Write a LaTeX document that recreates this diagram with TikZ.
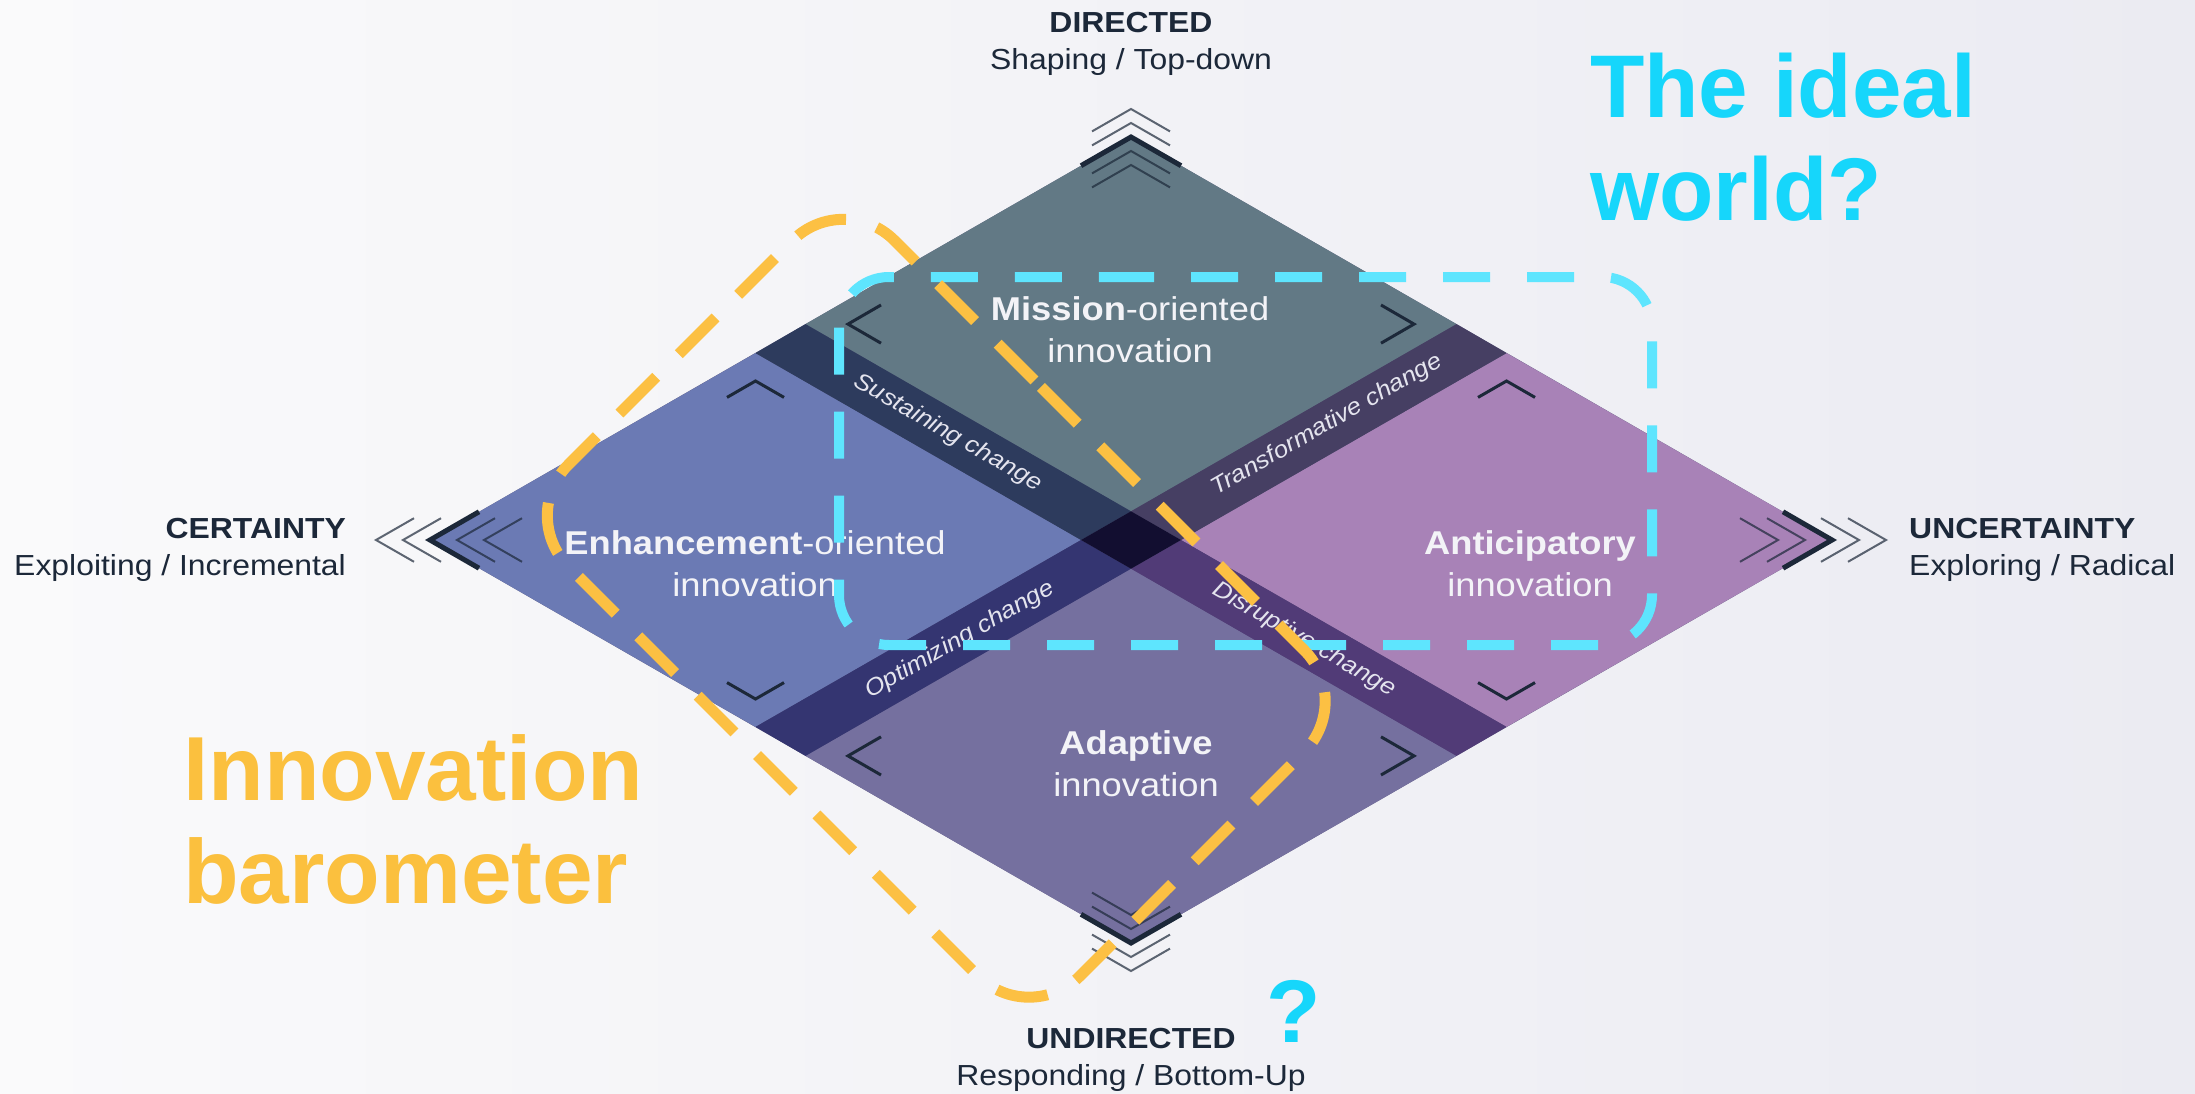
\documentclass[tikz,border=0pt]{standalone}
\usepackage{fontspec}
\setmainfont{Liberation Sans}
\newfontfamily\infofont{Liberation Sans}[FakeStretch=1.1]
\newfontfamily\notefont{Liberation Sans}
\usetikzlibrary{calc}

\definecolor{bgleft}{HTML}{FAFAFB}
\definecolor{bgright}{HTML}{EBEBF2}
\definecolor{missionfill}{HTML}{627985}
\definecolor{anticipfill}{HTML}{A882B7}
\definecolor{adaptfill}{HTML}{75709F}
\definecolor{enhancefill}{HTML}{6B7AB4}
\definecolor{sustainfill}{HTML}{2D3B5D}
\definecolor{transffill}{HTML}{463F63}
\definecolor{disruptfill}{HTML}{513B77}
\definecolor{optimfill}{HTML}{343571}
\definecolor{corefill}{HTML}{120E30}
\definecolor{navy}{HTML}{1C2839}
\definecolor{qwhite}{HTML}{F3F3F7}
\definecolor{bwhite}{HTML}{E4E4EE}
\definecolor{cyanline}{HTML}{5EE5FE}
\definecolor{cyantext}{HTML}{16D6FB}
\definecolor{orangeline}{HTML}{FCC043}
\definecolor{orangetext}{HTML}{FBC03E}

\begin{document}
\begin{tikzpicture}[x=1pt,y=-1pt,
  qtext/.style={text=qwhite, font=\infofont\fontsize{33}{42}\selectfont, align=center, inner sep=0pt},
  btext/.style={text=bwhite, font=\infofont\itshape\fontsize{23.5}{28}\selectfont, inner sep=0pt},
  axhead/.style={text=navy, font=\infofont\bfseries\fontsize{29}{35}\selectfont, inner sep=0pt},
  axsub/.style={text=navy, font=\infofont\fontsize{29}{35}\selectfont, inner sep=0pt},
  apexmark/.style={draw=navy, line width=5pt},
  apexthin/.style={draw=navy, line width=2pt, draw opacity=0.7},
  quadmark/.style={draw=navy, line width=3pt},
  idealframe/.style={draw=cyanline, line width=10pt, dash pattern=on 47pt off 37pt, rounded corners=50pt},
  baroframe/.style={draw=orangeline, line width=11pt, dash pattern=on 52pt off 32pt, rounded corners=72pt},
  bignote/.style={align=left, inner sep=0pt, anchor=west},
]
\useasboundingbox (0,0) rectangle (2195,1094);
\shade[left color=bgleft, right color=bgright] (0,0) rectangle (2195,1094);

% diamond corners
\coordinate (T) at (1131,137);
\coordinate (L) at (430,540);
\coordinate (R) at (1832,540);
\coordinate (B) at (1131,943);

% base fill under the pieces
\fill[adaptfill!80!black] (T) -- (R) -- (B) -- (L) -- cycle;

% four quadrants
\fill[missionfill] (T) -- (1456.5,324.1) -- (1131,511.3) -- (805.5,324.1) -- cycle;
\fill[anticipfill] (1506.5,353.1) -- (R) -- (1506.5,726.9) -- (1181,540) -- cycle;
\fill[adaptfill] (1131,568.7) -- (1456.5,755.9) -- (B) -- (805.5,755.9) -- cycle;
\fill[enhancefill] (755.5,353.1) -- (1081,540) -- (755.5,726.9) -- (L) -- cycle;

% change bands and their crossing
\fill[sustainfill] (755.5,353.1) -- (805.5,324.1) -- (1131,511.3) -- (1081,540) -- cycle;
\fill[transffill] (1131,511.3) -- (1456.5,324.1) -- (1506.5,353.1) -- (1181,540) -- cycle;
\fill[disruptfill] (1181,540) -- (1506.5,726.9) -- (1456.5,755.9) -- (1131,568.7) -- cycle;
\fill[optimfill] (1131,568.7) -- (805.5,755.9) -- (755.5,726.9) -- (1081,540) -- cycle;
\fill[corefill] (1081,540) -- (1131,511.3) -- (1181,540) -- (1131,568.7) -- cycle;

% chevrons at the top corner
\draw[apexthin] (1092,131.4) -- (1131,109) -- (1170,131.4);
\draw[apexthin] (1092,145.4) -- (1131,123) -- (1170,145.4);
\draw[apexthin] (1092,173.4) -- (1131,151) -- (1170,173.4);
\draw[apexthin] (1092,187.4) -- (1131,165) -- (1170,187.4);
\draw[apexmark] (1081,165.7) -- (T) -- (1181,165.7);
% chevrons at the bottom corner
\draw[apexthin] (1092,948.6) -- (1131,971) -- (1170,948.6);
\draw[apexthin] (1092,934.6) -- (1131,957) -- (1170,934.6);
\draw[apexthin] (1092,906.6) -- (1131,929) -- (1170,906.6);
\draw[apexthin] (1092,892.6) -- (1131,915) -- (1170,892.6);
\draw[apexmark] (1081,914.3) -- (B) -- (1181,914.3);
% chevrons at the left corner
\draw[apexthin] (414,518.2) -- (376,540) -- (414,561.8);
\draw[apexthin] (441,518.2) -- (403,540) -- (441,561.8);
\draw[apexthin] (495,518.2) -- (457,540) -- (495,561.8);
\draw[apexthin] (522,518.2) -- (484,540) -- (522,561.8);
\draw[apexmark] (479,511.8) -- (L) -- (479,568.2);
% chevrons at the right corner
\draw[apexthin] (1848,518.2) -- (1886,540) -- (1848,561.8);
\draw[apexthin] (1821,518.2) -- (1859,540) -- (1821,561.8);
\draw[apexthin] (1767,518.2) -- (1805,540) -- (1767,561.8);
\draw[apexthin] (1740,518.2) -- (1778,540) -- (1740,561.8);
\draw[apexmark] (1783,511.8) -- (R) -- (1783,568.2);

% small corner marks inside the quadrants
\draw[quadmark] (881,305) -- (848,324.1) -- (881,343.2);
\draw[quadmark] (1381,305) -- (1414,324.1) -- (1381,343.2);
\draw[quadmark] (881,736.8) -- (848,755.9) -- (881,775);
\draw[quadmark] (1381,736.8) -- (1414,755.9) -- (1381,775);
\draw[quadmark] (727,397.4) -- (755.5,381) -- (784,397.4);
\draw[quadmark] (727,682.6) -- (755.5,699) -- (784,682.6);
\draw[quadmark] (1478,397.4) -- (1506.5,381) -- (1535,397.4);
\draw[quadmark] (1478,682.6) -- (1506.5,699) -- (1535,682.6);

% quadrant names
\node[qtext] (mission) at (1130,330) {\textbf{Mission}-oriented\\innovation};
\node[qtext] (enhance) at (755,564) {\textbf{Enhancement}-oriented\\innovation};
\node[qtext] (anticip) at (1530,564) {\textbf{Anticipatory}\\innovation};
\node[qtext] (adapt) at (1136,764) {\textbf{Adaptive}\\innovation};

% band names
\node[btext, rotate=-29.9] (sustain) at (948,433) {Sustaining change};
\node[btext, rotate=29.9] (transf) at (1327,425) {Transformative change};
\node[btext, rotate=29.9] (optim) at (960,640) {Optimizing change};
\node[btext, rotate=-29.9] (disrupt) at (1304,640) {Disruptive change};

% axis ends
\node[axhead, anchor=base] (dir) at (1131,33) {DIRECTED};
\node[axsub, anchor=base] (dirsub) at (1131,70) {Shaping / Top-down};
\node[axhead, anchor=base east] (cert) at (346,538) {CERTAINTY};
\node[axsub, anchor=base east] (certsub) at (346,575) {Exploiting / Incremental};
\node[axhead, anchor=base west] (unc) at (1909,538) {UNCERTAINTY};
\node[axsub, anchor=base west] (uncsub) at (1909,575) {Exploring / Radical};
\node[axhead, anchor=base] (undir) at (1131,1048) {UNDIRECTED};
\node[axsub, anchor=base] (undirsub) at (1131,1085) {Responding / Bottom-Up};

% dashed outlines
\draw[idealframe] (1057,277) -- (1652,277) -- (1652,645) -- (839,645) -- (839,277) -- cycle;
\draw[baroframe] (990,336) -- (1355,701) -- (1029,1027) -- (517.5,515.5) -- (843.5,189.5) -- cycle;

% notes
\node[bignote, text=cyantext, font=\notefont\bfseries\fontsize{89}{103}\selectfont] (ideal) at (1590,137.5) {The ideal\\world?};
\node[bignote, text=orangetext, font=\notefont\bfseries\fontsize{91}{103}\selectfont] (baro) at (183,819) {Innovation\\barometer};
\node[text=cyantext, font=\notefont\bfseries\fontsize{89}{100}\selectfont, anchor=base, inner sep=0pt] (qmark) at (1294,1042) {?};
\end{tikzpicture}
\end{document}
